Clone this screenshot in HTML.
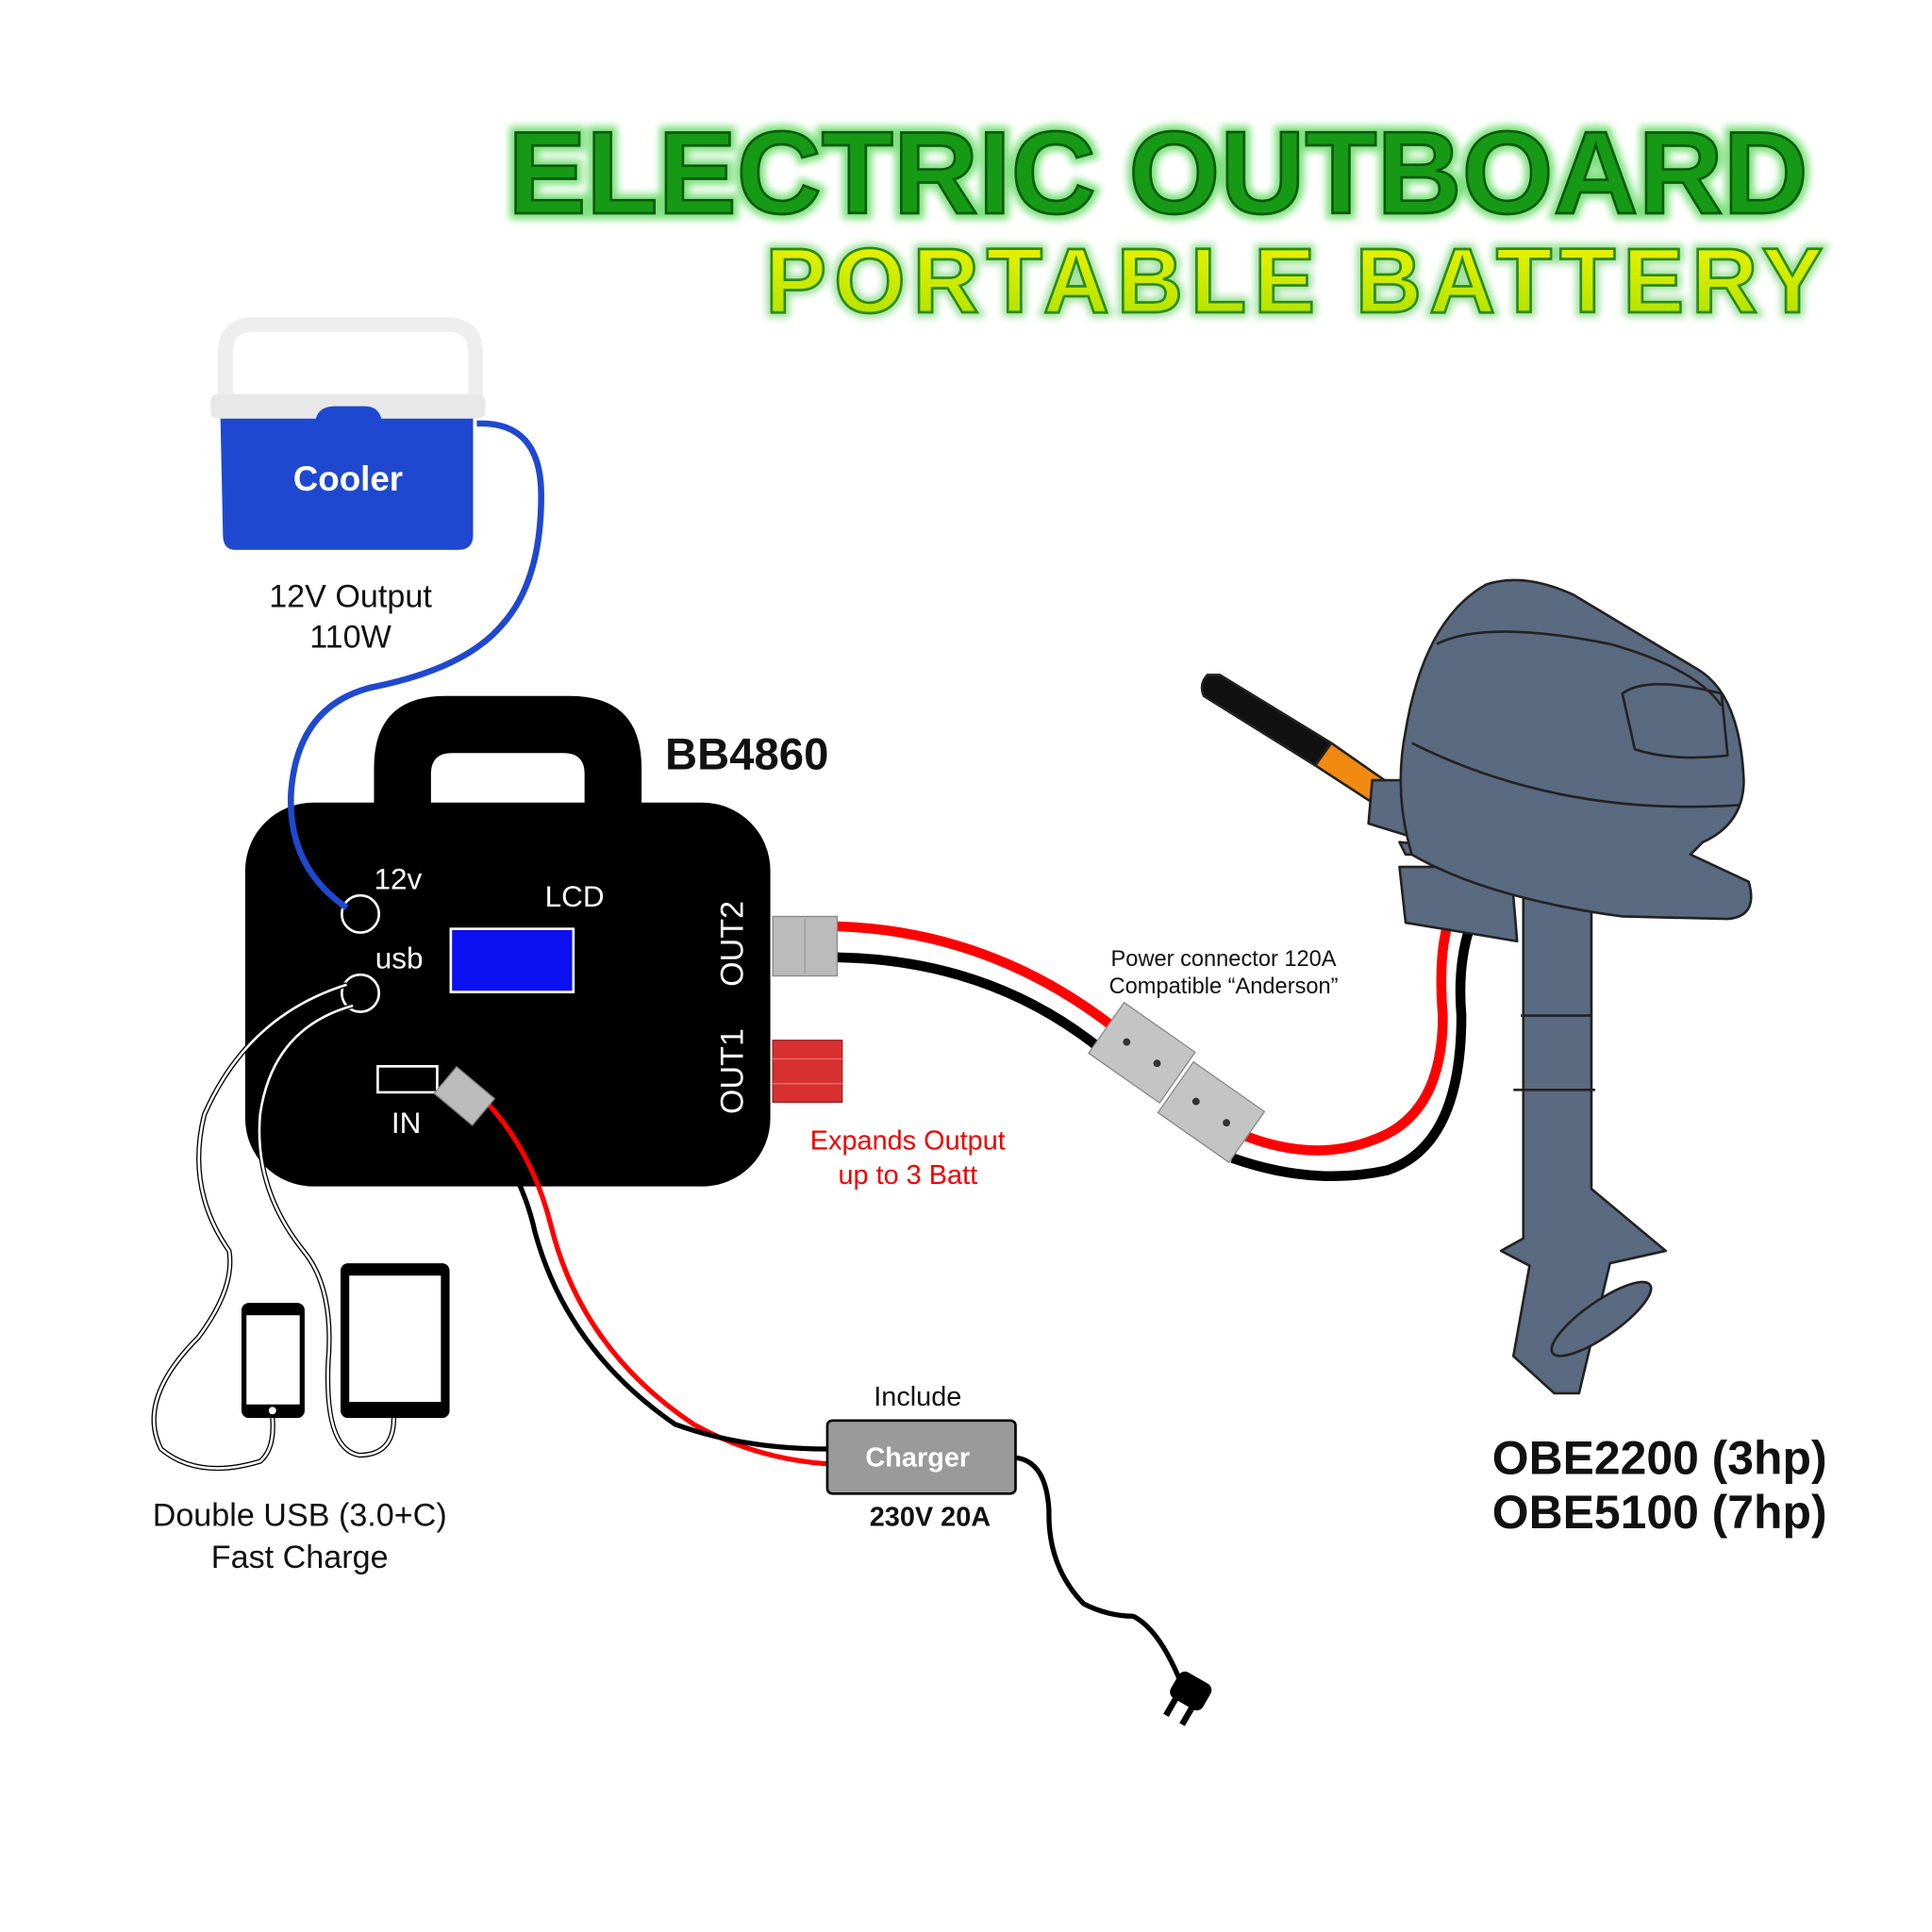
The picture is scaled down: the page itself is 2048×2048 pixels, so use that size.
<!DOCTYPE html>
<html><head><meta charset="utf-8"><style>
html,body{margin:0;padding:0;background:#fff;}
svg{display:block;}
text{font-family:"Liberation Sans",sans-serif;}
</style></head><body>
<svg width="2048" height="2048" viewBox="0 0 1560 1560" xmlns="http://www.w3.org/2000/svg">
<defs>
<linearGradient id="yg" x1="0" y1="0" x2="0" y2="1"><stop offset="0" stop-color="#f2f500"/><stop offset="1" stop-color="#a8e000"/></linearGradient>
<filter id="glow" x="-5%" y="-20%" width="110%" height="140%"><feGaussianBlur stdDeviation="3"/></filter>
</defs>
<rect width="1560" height="1560" fill="#fff"/>
<!-- Title -->
<text x="410" y="172" font-size="95" font-weight="bold" textLength="1050" lengthAdjust="spacingAndGlyphs" fill="#7de07d" stroke="#7de07d" stroke-width="10" filter="url(#glow)">ELECTRIC OUTBOARD</text>
<text x="410" y="172" font-size="95" font-weight="bold" textLength="1050" lengthAdjust="spacingAndGlyphs" fill="#169a16" stroke="#0a5a0a" stroke-width="2">ELECTRIC OUTBOARD</text>
<text x="618" y="252" font-size="74" font-weight="bold" textLength="854" lengthAdjust="spacing" fill="#9be09b" stroke="#9be09b" stroke-width="8" filter="url(#glow)">PORTABLE BATTERY</text>
<text x="618" y="252" font-size="74" font-weight="bold" textLength="854" lengthAdjust="spacing" fill="url(#yg)" stroke="#2a8a10" stroke-width="2">PORTABLE BATTERY</text>

<!-- Cooler -->
<path d="M182,325 V285 Q182,262 205,262 H360 Q384,262 384,285 V325" fill="none" stroke="#eeeeee" stroke-width="12"/>
<rect x="170" y="318" width="222" height="20" rx="6" fill="#e8e8e8"/>
<path d="M178,338 H255 Q258,328 270,328 H295 Q305,328 308,338 H382 V432 Q382,444 370,444 H190 Q180,444 180,432 Z" fill="#1f48d0"/>
<text x="281" y="396" font-size="28" font-weight="bold" fill="#fff" text-anchor="middle">Cooler</text>
<text x="283" y="490" font-size="26" fill="#111" text-anchor="middle">12V Output</text>
<text x="283" y="523" font-size="26" fill="#111" text-anchor="middle">110W</text>

<!-- Battery box -->
<path d="M302,650 V620 Q302,562 360,562 H460 Q518,562 518,620 V650 Z" fill="#000"/>
<path d="M348,650 V625 Q348,608 365,608 H455 Q472,608 472,625 V650 Z" fill="#fff"/>
<rect x="198" y="648" width="424" height="310" rx="55" fill="#000"/>
<text x="537" y="621" font-size="36" font-weight="bold" fill="#111">BB4860</text>
<circle cx="291" cy="738" r="15" fill="none" stroke="#fff" stroke-width="2"/>
<text x="302" y="718" font-size="24" fill="#fff">12v</text>
<circle cx="291" cy="802" r="15" fill="none" stroke="#fff" stroke-width="2"/>
<text x="303" y="782" font-size="24" fill="#fff">usb</text>
<text x="440" y="732" font-size="24" fill="#fff">LCD</text>
<rect x="364" y="750" width="99" height="51" fill="#0a10f0" stroke="#fff" stroke-width="2"/>
<rect x="305" y="861" width="48" height="21" fill="none" stroke="#fff" stroke-width="2"/>
<text x="316" y="915" font-size="24" fill="#fff">IN</text>
<text transform="translate(600,762) rotate(-90)" font-size="26" fill="#fff" text-anchor="middle">OUT2</text>
<text transform="translate(600,865) rotate(-90)" font-size="26" fill="#fff" text-anchor="middle">OUT1</text>

<!-- blue cable -->
<path d="M385,342 Q437,340 437,400 Q437,470 405,505 Q375,540 300,555 Q240,570 235,640 Q232,700 280,733" fill="none" stroke="#1f48d0" stroke-width="5"/>

<!-- OUT cables -->
<path d="M676,748 Q800,752 900,830 M1000,915 Q1060,940 1110,920 Q1165,900 1165,820 Q1160,760 1175,730" fill="none" stroke="#f00" stroke-width="8"/>
<path d="M676,773 Q800,775 890,848 M995,935 Q1060,958 1120,945 Q1180,925 1180,820 Q1175,760 1200,720" fill="none" stroke="#000" stroke-width="8"/>
<rect x="624" y="740" width="52" height="48" fill="#bbb" stroke="#888"/>
<line x1="650" y1="742" x2="650" y2="786" stroke="#999"/>
<rect x="624" y="840" width="56" height="50" fill="#d83030" stroke="#a02020"/>
<line x1="624" y1="855" x2="680" y2="855" stroke="#f07070"/><line x1="624" y1="875" x2="680" y2="875" stroke="#f07070"/>
<g transform="translate(922,850) rotate(35)"><rect x="-35" y="-25" width="70" height="50" fill="#c4c4c4" stroke="#888"/><circle cx="-15" cy="0" r="3" fill="#333"/><circle cx="15" cy="0" r="3" fill="#333"/></g>
<g transform="translate(978,898) rotate(35)"><rect x="-35" y="-25" width="70" height="50" fill="#c4c4c4" stroke="#888"/><circle cx="-15" cy="0" r="3" fill="#333"/><circle cx="15" cy="0" r="3" fill="#333"/></g>
<text x="988" y="780" font-size="18" fill="#111" text-anchor="middle">Power connector 120A</text>
<text x="988" y="802" font-size="18" fill="#111" text-anchor="middle">Compatible “Anderson”</text>
<text x="733" y="928" font-size="22" fill="#e00" text-anchor="middle">Expands Output</text>
<text x="733" y="956" font-size="22" fill="#e00" text-anchor="middle">up to 3 Batt</text>

<!-- IN cable -->
<path d="M393,890 Q430,930 445,990 Q470,1090 560,1150 Q610,1178 668,1182" fill="none" stroke="#f00" stroke-width="4"/>
<path d="M380,898 Q420,940 432,995 Q458,1090 545,1150 Q600,1170 668,1170" fill="none" stroke="#000" stroke-width="4"/>
<g transform="translate(375,885) rotate(40)"><rect x="-20" y="-14" width="40" height="28" fill="#bbb" stroke="#888"/></g>

<!-- Charger -->
<rect x="668" y="1147" width="152" height="59" rx="4" fill="#9a9a9a" stroke="#000" stroke-width="2"/>
<text x="741" y="1184" font-size="22" font-weight="bold" fill="#fff" text-anchor="middle">Charger</text>
<text x="741" y="1135" font-size="22" fill="#111" text-anchor="middle">Include</text>
<text x="751" y="1232" font-size="22" font-weight="bold" fill="#111" text-anchor="middle">230V 20A</text>
<path d="M820,1177 Q845,1180 847,1220 Q846,1265 875,1295 Q895,1305 915,1305 Q935,1315 952,1355" fill="none" stroke="#000" stroke-width="4"/>
<g transform="translate(960,1368) rotate(30)"><rect x="-15" y="-15" width="30" height="24" rx="6" fill="#000"/><rect x="-10" y="8" width="5" height="16" fill="#000"/><rect x="5" y="8" width="5" height="16" fill="#000"/></g>

<!-- USB devices -->
<path d="M280,795 Q200,820 165,900 Q150,960 185,1010 Q190,1040 160,1080 Q110,1130 130,1170 Q160,1195 210,1180 Q222,1170 220,1145" fill="none" stroke="#000" stroke-width="4"/>
<path d="M280,795 Q200,820 165,900 Q150,960 185,1010 Q190,1040 160,1080 Q110,1130 130,1170 Q160,1195 210,1180 Q222,1170 220,1145" fill="none" stroke="#fff" stroke-width="2"/>
<path d="M285,812 Q220,830 210,900 Q205,960 245,1010 Q270,1040 265,1100 Q262,1170 290,1175 Q318,1175 318,1145" fill="none" stroke="#000" stroke-width="4"/>
<path d="M285,812 Q220,830 210,900 Q205,960 245,1010 Q270,1040 265,1100 Q262,1170 290,1175 Q318,1175 318,1145" fill="none" stroke="#fff" stroke-width="2"/>
<rect x="195" y="1052" width="51" height="93" rx="6" fill="#000"/><rect x="199" y="1062" width="43" height="72" fill="#fff"/><circle cx="220" cy="1139" r="3" fill="#fff"/>
<rect x="275" y="1020" width="88" height="125" rx="6" fill="#000"/><rect x="282" y="1030" width="74" height="102" fill="#fff"/>
<text x="242" y="1232" font-size="26" fill="#111" text-anchor="middle">Double USB (3.0+C)</text>
<text x="242" y="1266" font-size="26" fill="#111" text-anchor="middle">Fast Charge</text>

<!-- Motor -->
<g stroke="#222" stroke-width="2" stroke-linejoin="round">
<path d="M975,545 Q968,552 972,562 L1062,618 L1075,600 L985,545 Z" fill="#111"/>
<path d="M1062,618 L1108,648 L1118,630 L1075,600 Z" fill="#f08a10"/>
<path d="M1108,630 L1165,630 L1170,685 L1105,665 Z" fill="#5a6a80"/>
<path d="M1130,680 L1230,690 L1230,1000 L1212,1010 L1235,1022 L1222,1095 L1255,1125 L1275,1125 L1300,1020 L1345,1010 L1285,960 L1285,700 L1300,690 L1135,690 Z" fill="#5a6a80"/>
<path d="M1130,700 L1220,700 L1225,760 L1135,745 Z" fill="#5a6a80"/>
<path d="M1135,590 Q1150,500 1200,472 Q1230,462 1270,480 L1370,540 Q1405,560 1408,630 Q1408,665 1375,680 L1365,690 L1412,712 Q1420,740 1395,742 L1310,740 Q1200,725 1140,690 Q1125,640 1135,590 Z" fill="#5a6a80"/>
<path d="M1140,600 Q1260,660 1405,650" fill="none"/>
<path d="M1160,520 Q1200,500 1300,520 Q1370,540 1390,570" fill="none"/>
<path d="M1310,560 Q1330,545 1390,560 L1395,610 Q1350,615 1320,605 Z" fill="none"/>
<ellipse cx="1293" cy="1065" rx="48" ry="14" transform="rotate(-35 1293 1065)" fill="#5a6a80"/>
<line x1="1228" y1="820" x2="1285" y2="820"/><line x1="1222" y1="880" x2="1288" y2="880"/>
</g>
<text x="1340" y="1190" font-size="38" font-weight="bold" fill="#111" text-anchor="middle">OBE2200 (3hp)</text>
<text x="1340" y="1234" font-size="38" font-weight="bold" fill="#111" text-anchor="middle">OBE5100 (7hp)</text>
</svg>
</body></html>
